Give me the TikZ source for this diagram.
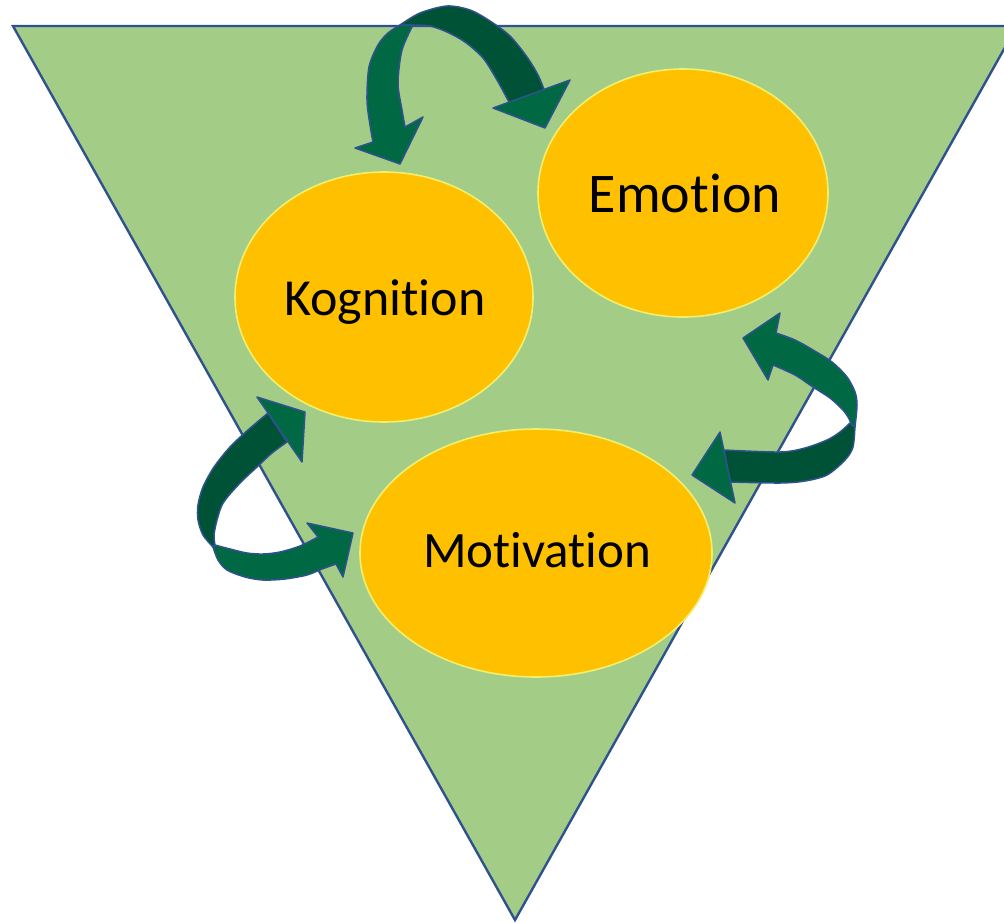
\documentclass[tikz,border=0pt]{standalone}
\usepackage{fontspec}
\setmainfont[Ligatures=NoCommon]{Carlito}
\definecolor{leaf}{RGB}{163,205,135}
\definecolor{edgeblue}{RGB}{47,82,143}
\definecolor{gold}{RGB}{255,192,0}
\definecolor{rimyellow}{RGB}{240,240,110}
\definecolor{arrowmid}{RGB}{0,105,68}
\definecolor{arrowdark}{RGB}{0,82,55}
\tikzset{
  bubble/.style={ellipse, fill=gold, draw=rimyellow, line width=1.6pt, inner sep=0pt},
  bandfront/.style={fill=arrowmid, draw=edgeblue, line width=1.5pt, line join=round},
  bandback/.style={fill=arrowdark, draw=edgeblue, line width=1.5pt, line join=round},
  label/.style={anchor=base, text=black, inner sep=0pt},
}
\usetikzlibrary{shapes.geometric}
\begin{document}
\begin{tikzpicture}[x=1pt, y=-1pt]
\useasboundingbox (0,0) rectangle (1004,922);
\clip (0,0) rectangle (1004,922);

% inverted triangle
\draw[fill=leaf, draw=edgeblue, line width=2.4pt, line join=miter]
  (13,26) -- (1017,26) -- (515,920) -- cycle;

% the three states
\node[bubble, minimum width=298pt, minimum height=250pt] (kog) at (384,297) {};
\node[bubble, minimum width=290pt, minimum height=248pt] (emo) at (683,193) {};
\node[bubble, minimum width=352pt, minimum height=248pt] (mot) at (536,553) {};

\node[label, font=\fontsize{52}{52}\selectfont] (tkog) at (385,315) {Kognition};
\node[label, font=\fontsize{56}{56}\selectfont] (temo) at (685,212) {Emotion};
\node[label, font=\fontsize{51}{51}\selectfont] (tmot) at (537,567) {Motivation};

% top pair: back band to Emotion
\path[bandback] plot[smooth] coordinates {(400,25) (420,13) (447,6) (470,10) (490,21) (510,36) (527,57) (538,75) (545,92)}
  -- plot[smooth] coordinates {(510,104) (497,80) (483,58) (465,42) (447,32) (430,26) (413,25)} -- cycle;
\path[bandfront] (493,108) -- (570,80) -- (545,128) -- cycle;
% top pair: front band to Kognition
\path[bandfront] plot[smooth] coordinates {(400,25) (388,33) (378,45) (369,67) (367,100) (370,125) (373,142)}
  -- (355,148) -- (400,164) -- (423,117)
  -- plot[smooth] coordinates {(405,127) (402,110) (398,83) (402,50) (413,25)} -- cycle;

% right pair: lower back band to Motivation
\path[bandback] plot[smooth] coordinates {(855,425) (853,447) (845,460) (827,475) (805,481) (780,483) (730,482)}
  -- plot[smooth] coordinates {(724,450) (780,452) (805,448) (827,440) (840,432) (850,423)} -- cycle;
\path[bandfront] (720,432) -- (692,475) -- (735,503) -- cycle;
% right pair: upper front band to Emotion
\path[bandfront] plot[smooth] coordinates {(855,427) (857,405) (855,392) (847,377) (832,362) (813,350) (795,340) (776,333)}
  -- (780,313) -- (743,338) -- (768,380)
  -- plot[smooth] coordinates {(773,365) (795,375) (813,387) (830,398) (843,410) (848,417) (852,425)} -- cycle;

% left pair: upper back band to Kognition
\path[bandback] plot[smooth] coordinates {(213,547) (203,535) (198,520) (198,505) (203,487) (214,467) (230,447) (248,430) (268,413)}
  -- plot[smooth] coordinates {(287,442) (272,453) (257,467) (243,480) (230,494) (222,505) (217,520) (214,535) (215,545)} -- cycle;
\path[bandfront] (257,397) -- (305,412) -- (302,462) -- cycle;
% left pair: lower front band to Motivation
\path[bandfront] plot[smooth] coordinates {(213,547) (218,560) (227,570) (245,577) (263,580) (285,579) (307,575) (322,569) (336,564)}
  -- (343,577) -- (353,533) -- (307,523)
  -- plot[smooth] coordinates {(318,537) (300,546) (280,552) (263,554) (247,553) (230,549) (215,545)} -- cycle;
\end{tikzpicture}
\end{document}
